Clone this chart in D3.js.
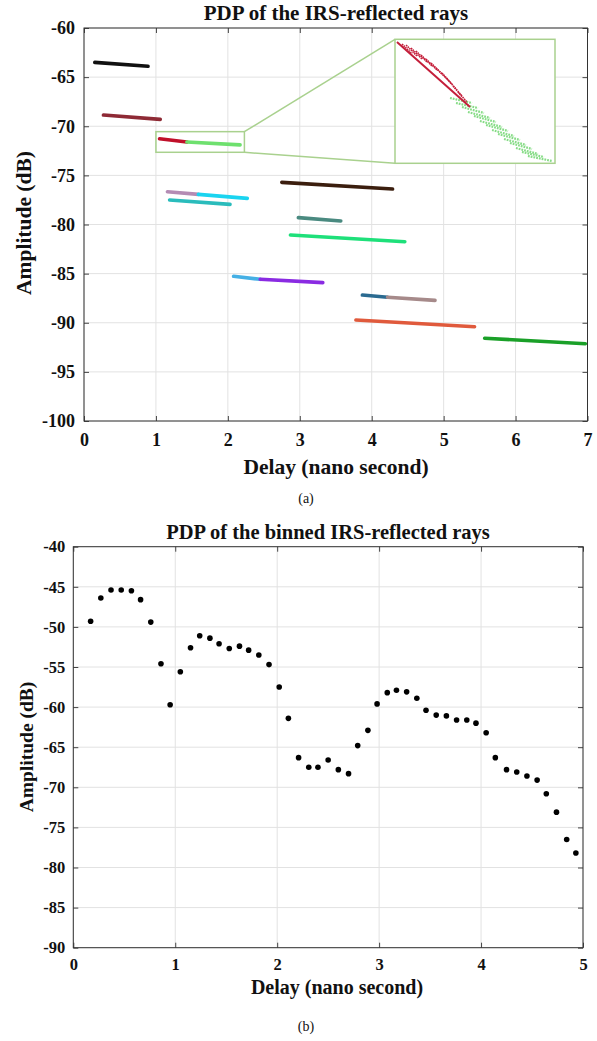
<!DOCTYPE html>
<html>
<head>
<meta charset="utf-8">
<script src="https://cdn.jsdelivr.net/npm/d3@7"></script>
<style>
  body { margin: 0; background: #fff; }
  svg text { font-family: "Liberation Serif", "Times New Roman", serif; }
</style>
</head>
<body>
<svg id="fig" width="597" height="1041"></svg>
<script>
'use strict'

// (a) ray clusters: start / end delay (ns) and start / end amplitude (dB)
const rayDelay0 = [0.15, 0.27, 1.05, 1.43, 1.16, 1.59, 1.19, 2.75, 2.98, 2.87, 2.08, 2.45, 3.87, 4.22, 3.78, 5.57]
const rayDelay1 = [0.89, 1.06, 1.43, 2.17, 1.59, 2.27, 2.03, 4.29, 3.57, 4.46, 2.45, 3.32, 4.22, 4.88, 5.43, 6.97]
const rayAmp0 = [-63.5, -68.86, -71.27, -71.61, -76.66, -76.93, -77.5, -75.71, -79.3, -81.07, -85.27, -85.58, -87.18, -87.41, -89.72, -91.58]
const rayAmp1 = [-63.9, -69.3, -71.61, -71.9, -76.93, -77.34, -77.95, -76.39, -79.64, -81.75, -85.58, -85.92, -87.41, -87.72, -90.4, -92.13]
const rayColors = ['#111111', '#8e2a35', '#c0102a', '#6ee06e', '#b48cb4', '#1ad4f0', '#2abcbc', '#3b1e0e',
  '#4a8a80', '#1ee07a', '#45b0e5', '#8a2be2', '#2a6a90', '#a68a8a', '#e05a3c', '#1aa028']

// zoomed window (delay / amplitude) and the individual rays seen inside it
const zoomDelay = [1.0, 2.23]
const zoomAmp = [-70.55, -72.65]
const redRays = [
  [1.015, -70.596, 1.577, -71.697],
  [1.054, -70.630, 1.131, -70.799], [1.085, -70.647, 1.169, -70.833], [1.123, -70.697, 1.208, -70.884],
  [1.161, -70.748, 1.246, -70.934], [1.200, -70.816, 1.284, -71.002], [1.238, -70.884, 1.323, -71.070],
  [1.277, -70.951, 1.361, -71.138], [1.315, -71.036, 1.400, -71.222], [1.361, -71.121, 1.438, -71.307],
  [1.400, -71.223, 1.477, -71.409], [1.446, -71.341, 1.515, -71.510], [1.484, -71.442, 1.553, -71.612]
]
const greenRays = [
  [1.423, -71.544, 1.592, -71.629], [1.469, -71.629, 1.638, -71.713], [1.515, -71.697, 1.684, -71.798],
  [1.561, -71.781, 1.730, -71.883], [1.607, -71.849, 1.776, -71.951], [1.653, -71.934, 1.823, -72.035],
  [1.700, -72.001, 1.869, -72.103], [1.746, -72.086, 1.915, -72.188], [1.792, -72.154, 1.961, -72.255],
  [1.838, -72.238, 2.007, -72.340], [1.884, -72.306, 2.053, -72.408], [1.930, -72.391, 2.099, -72.492],
  [1.976, -72.459, 2.145, -72.543], [2.022, -72.526, 2.207, -72.611]
]

// (b) binned PDP
const binDelay = [0.17, 0.27, 0.37, 0.47, 0.57, 0.66, 0.76, 0.86, 0.95, 1.05, 1.15, 1.24, 1.34, 1.43, 1.53, 1.63, 1.72,
  1.82, 1.92, 2.02, 2.11, 2.21, 2.31, 2.40, 2.50, 2.60, 2.70, 2.79, 2.89, 2.98, 3.08, 3.17, 3.27, 3.37, 3.46, 3.56,
  3.66, 3.76, 3.86, 3.95, 4.05, 4.14, 4.25, 4.35, 4.45, 4.55, 4.64, 4.74, 4.84, 4.93]
const binAmp = [-49.3, -46.4, -45.4, -45.4, -45.5, -46.6, -49.4, -54.6, -59.7, -55.6, -52.6, -51.1, -51.4, -52.1, -52.7,
  -52.4, -52.9, -53.5, -54.7, -57.5, -61.4, -66.3, -67.5, -67.5, -66.6, -67.8, -68.3, -64.8, -62.9, -59.6, -58.2, -57.9,
  -58.1, -58.9, -60.4, -61.0, -61.1, -61.6, -61.6, -62.0, -63.2, -66.3, -67.8, -68.1, -68.6, -69.1, -70.8, -73.1, -76.5, -78.2]

const xTicksA = [0, 1, 2, 3, 4, 5, 6, 7]
const yTicksA = [-100, -95, -90, -85, -80, -75, -70, -65, -60]
const xTicksB = [0, 1, 2, 3, 4, 5]
const yTicksB = [-90, -85, -80, -75, -70, -65, -60, -55, -50, -45, -40]

const svg = d3.select('#fig')

// matlab-ish box with grid, inward ticks on all sides
function drawFrame(g, x, y, xTicks, yTicks, fs, padX, padY) {
  let [left, right] = x.range()
  let [bottom, top] = y.range()
  // grid
  g.append('g').selectAll('line').data(xTicks).join('line')
    .attr('x1', d => x(d)).attr('x2', d => x(d)).attr('y1', top).attr('y2', bottom)
    .attr('stroke', '#e2e2e2')
  g.append('g').selectAll('line').data(yTicks).join('line')
    .attr('x1', left).attr('x2', right).attr('y1', d => y(d)).attr('y2', d => y(d))
    .attr('stroke', '#e2e2e2')
  // axes
  let ax = g.append('g').attr('transform', `translate(0,${bottom})`)
    .call(d3.axisBottom(x).tickValues(xTicks).tickSize(-5).tickPadding(padX).tickFormat(d => String(d)))
  let ay = g.append('g').attr('transform', `translate(${left},0)`)
    .call(d3.axisLeft(y).tickValues(yTicks).tickSize(-5).tickPadding(padY).tickFormat(d => String(d)))
  let at = g.append('g').attr('transform', `translate(0,${top})`)
    .call(d3.axisTop(x).tickValues(xTicks).tickSize(-5).tickFormat(''))
  let ar = g.append('g').attr('transform', `translate(${right},0)`)
    .call(d3.axisRight(y).tickValues(yTicks).tickSize(-5).tickFormat(''))
  for (let a of [ax, ay, at, ar]) {
    a.select('.domain').remove()
    a.selectAll('line').attr('stroke', '#444')
    a.selectAll('text').attr('font-size', fs).attr('font-weight', 'bold').attr('fill', '#111')
  }
  g.append('rect')
    .attr('x', left).attr('y', top).attr('width', right - left).attr('height', bottom - top)
    .attr('fill', 'none').attr('stroke', '#333').attr('stroke-width', 1)
}

function label(txt, x, y, fs, weight, rot) {
  let t = svg.append('text').attr('x', x).attr('y', y)
    .attr('text-anchor', 'middle').attr('font-size', fs).attr('font-weight', weight).attr('fill', '#111')
    .text(txt)
  if (rot) t.attr('transform', `rotate(-90,${x},${y})`)
  return t
}

// ---------- (a) ----------
var xA = d3.scaleLinear().domain([0, 7]).range([84, 587.5])
var yA = d3.scaleLinear().domain([-100, -60]).range([421, 28])
var gA = svg.append('g')
drawFrame(gA, xA, yA, xTicksA, yTicksA, 18, 12, 9)

gA.append('g').selectAll('line').data(rayColors).join('line')
  .attr('x1', (d, i) => xA(rayDelay0[i])).attr('y1', (d, i) => yA(rayAmp0[i]))
  .attr('x2', (d, i) => xA(rayDelay1[i])).attr('y2', (d, i) => yA(rayAmp1[i]))
  .attr('stroke', d => d).attr('stroke-width', 3.6).attr('stroke-linecap', 'round')

// zoom box + inset
var inset = { x0: 395, x1: 555, y0: 39.3, y1: 163.3 }
var boxCol = '#a9d18e'
gA.append('rect')
  .attr('x', xA(zoomDelay[0])).attr('y', yA(zoomAmp[0]))
  .attr('width', xA(zoomDelay[1]) - xA(zoomDelay[0])).attr('height', yA(zoomAmp[1]) - yA(zoomAmp[0]))
  .attr('fill', 'none').attr('stroke', boxCol).attr('stroke-width', 1.5)
gA.append('line')
  .attr('x1', xA(zoomDelay[1])).attr('y1', yA(zoomAmp[0])).attr('x2', inset.x0).attr('y2', inset.y0)
  .attr('stroke', boxCol).attr('stroke-width', 1.5)
gA.append('line')
  .attr('x1', xA(zoomDelay[1])).attr('y1', yA(zoomAmp[1])).attr('x2', inset.x0).attr('y2', inset.y1)
  .attr('stroke', boxCol).attr('stroke-width', 1.5)
gA.append('rect')
  .attr('x', inset.x0).attr('y', inset.y0).attr('width', inset.x1 - inset.x0).attr('height', inset.y1 - inset.y0)
  .attr('fill', '#fff').attr('stroke', boxCol).attr('stroke-width', 1.5)

var ix = d3.scaleLinear().domain(zoomDelay).range([inset.x0, inset.x1])
var iy = d3.scaleLinear().domain(zoomAmp).range([inset.y0, inset.y1])
gA.append('g').selectAll('line').data(greenRays).join('line')
  .attr('x1', d => ix(d[0])).attr('y1', d => iy(d[1])).attr('x2', d => ix(d[2])).attr('y2', d => iy(d[3]))
  .attr('stroke', '#86dc86').attr('stroke-width', 2.2).attr('stroke-dasharray', '1.8,1')
gA.append('g').selectAll('line').data(redRays).join('line')
  .attr('x1', d => ix(d[0])).attr('y1', d => iy(d[1])).attr('x2', d => ix(d[2])).attr('y2', d => iy(d[3]))
  .attr('stroke', '#c41e3a').attr('stroke-width', (d, i) => i === 0 ? 2 : 1.6)
  .attr('stroke-dasharray', (d, i) => i === 0 ? null : '1.6,0.7')

label('PDP of the IRS-reflected rays', 336, 19.5, 21, 'bold')
label('Delay (nano second)', 336, 474, 21.5, 'bold')
label('Amplitude (dB)', 31, 223, 21.5, 'bold', true)
label('(a)', 306, 503, 14, 'normal')

// ---------- (b) ----------
var xB = d3.scaleLinear().domain([0, 5]).range([73.3, 583])
var yB = d3.scaleLinear().domain([-90, -40]).range([947.7, 546.7])
var gB = svg.append('g')
drawFrame(gB, xB, yB, xTicksB, yTicksB, 16.5, 11, 8)

gB.append('g').selectAll('circle').data(binAmp).join('circle')
  .attr('cx', (d, i) => xB(binDelay[i])).attr('cy', d => yB(d))
  .attr('r', 2.8).attr('fill', '#000')

label('PDP of the binned IRS-reflected rays', 328, 539, 20.5, 'bold')
label('Delay (nano second)', 337, 994, 20, 'bold')
label('Amplitude (dB)', 33, 747, 19.5, 'bold', true)
label('(b)', 306, 1031, 14, 'normal')
</script>
</body>
</html>
